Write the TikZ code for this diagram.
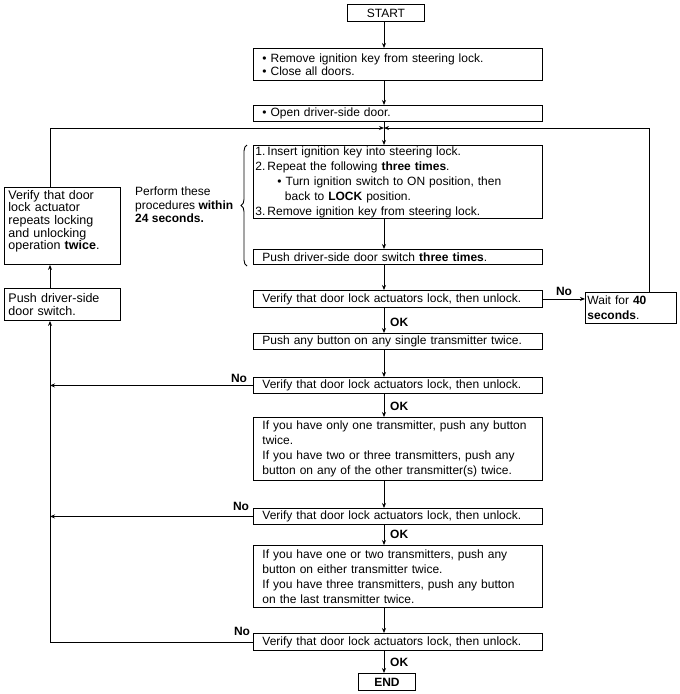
\documentclass[tikz,border=0pt]{standalone}
\usepackage{fontspec}
\setmainfont{Liberation Sans}
\usetikzlibrary{arrows.meta,decorations.pathreplacing,calc}
\begin{document}
\begin{tikzpicture}[x=1pt,y=-1pt,
  every node/.style={font=\fontsize{12}{15}\selectfont},
  box/.style={draw, line width=0.9pt, anchor=north west, align=left, inner ysep=0pt, inner xsep=9pt, minimum width=289pt, text width=271pt},
  lbox/.style={draw, line width=0.9pt, anchor=north west, align=left, inner ysep=0pt, inner xsep=4pt, minimum width=116pt, text width=108pt},
  arr/.style={line width=0.9pt, -{Stealth[length=5pt,width=4pt]}},
  conn/.style={line width=0.9pt},
  lab/.style={font=\bfseries\fontsize{12}{14}\selectfont, inner sep=0pt}
]
\useasboundingbox (0,0) rectangle (680,694);
\coordinate (L) at (50,0);
\coordinate (R) at (649,0);
\coordinate (J) at (384,128);

\node[draw, line width=0.9pt, anchor=north west, minimum width=77pt, minimum height=17pt, inner sep=0pt] (start) at (347,4) {START};
\node[box, minimum height=32pt, font=\fontsize{12}{13}\selectfont] (b2) at (253,48) {\textbullet\ Remove ignition key from steering lock.\\\textbullet\ Close all doors.};
\node[box, minimum height=16pt] (b3) at (253,105) {\textbullet\ Open driver-side door.};
\node[box, minimum height=73pt, inner xsep=2pt, text width=285pt] (b4) at (253,145) {\makebox[12pt][l]{1.}Insert ignition key into steering lock.\\
\makebox[12pt][l]{2.}Repeat the following \textbf{three times}.\\
\hspace*{22pt}\textbullet\ Turn ignition switch to ON position, then\\
\hspace*{29.5pt}back to \textbf{LOCK} position.\\
\makebox[12pt][l]{3.}Remove ignition key from steering lock.};
\node[box, minimum height=15pt] (b5) at (253,249) {Push driver-side door switch \textbf{three times}.};
\node[box, minimum height=17pt] (v1) at (253,290) {Verify that door lock actuators lock, then unlock.};
\node[draw, line width=0.9pt, anchor=north west, align=left, inner ysep=0pt, inner xsep=2pt, minimum width=91pt, text width=87pt, minimum height=31pt] (wait) at (585,292) {Wait for \textbf{40}\\\textbf{seconds}.};
\node[box, minimum height=16pt] (pushany) at (253,333) {Push any button on any single transmitter twice.};
\node[box, minimum height=16pt] (v2) at (253,377) {Verify that door lock actuators lock, then unlock.};
\node[box, minimum height=63pt] (only1) at (253,417) {If you have only one transmitter, push any button\\twice.\\If you have two or three transmitters, push any\\button on any of the other transmitter(s) twice.};
\node[box, minimum height=16pt] (v3) at (253,508) {Verify that door lock actuators lock, then unlock.};
\node[box, minimum height=62pt] (twoor) at (253,545) {If you have one or two transmitters, push any\\button on either transmitter twice.\\If you have three transmitters, push any button\\on the last transmitter twice.};
\node[box, minimum height=17pt] (v4) at (253,633) {Verify that door lock actuators lock, then unlock.};
\node[draw, line width=0.9pt, anchor=north west, minimum width=57pt, minimum height=17pt, inner sep=0pt, font=\bfseries\fontsize{12}{14}\selectfont] (end) at (358,673) {END};

\node[lbox, minimum height=77pt, font=\fontsize{12.5}{12.7}\selectfont] (A) at (4,187) {Verify that door\\lock actuator\\repeats locking\\and unlocking\\operation \textbf{twice}.\rule[-12pt]{0pt}{0pt}};
\node[lbox, minimum height=32pt, font=\fontsize{12.5}{12.5}\selectfont] (P) at (4,288) {Push driver-side\\door switch.};

\node[anchor=north west, align=left, inner sep=0pt, font=\fontsize{12}{13.5}\selectfont] (perf) at (135,187) {Perform these\\procedures \textbf{within}\\\textbf{24 seconds.}};
\draw[conn, decorate, decoration={brace, amplitude=6pt}] (247,266) -- (247,145);

\node[lab] (no1) at (564,291) {No};
\node[lab] (no2) at (239,378) {No};
\node[lab] (no3) at (241,506) {No};
\node[lab] (no4) at (242,631) {No};
\node[lab, anchor=west] (ok1) at (390,322) {OK};
\node[lab, anchor=west] (ok2) at (390,406) {OK};
\node[lab, anchor=west] (ok3) at (390,534) {OK};
\node[lab, anchor=west] (ok4) at (390,662) {OK};

\draw[arr] (start.south -| J) -- (b2.north -| J);
\draw[arr] (b2.south -| J) -- (b3.north -| J);
\draw[conn] (b3.south -| J) -- (J);
\draw[arr] (J) -- (b4.north -| J);
\draw[arr] (A.north -| L) |- (J);
\draw[arr] (wait.north -| R) |- (J);
\draw[arr] (b4.south -| J) -- (b5.north -| J);
\draw[arr] (b5.south -| J) -- (v1.north -| J);
\draw[arr] (v1.east) -- (v1.east -| wait.west);
\draw[arr] (v1.south -| J) -- (pushany.north -| J);
\draw[arr] (pushany.south -| J) -- (v2.north -| J);
\draw[arr] (v2.west) -- (v2.west -| L);
\draw[arr] (v2.south -| J) -- (only1.north -| J);
\draw[arr] (only1.south -| J) -- (v3.north -| J);
\draw[arr] (v3.west) -- (v3.west -| L);
\draw[arr] (v3.south -| J) -- (twoor.north -| J);
\draw[arr] (twoor.south -| J) -- (v4.north -| J);
\draw[arr] (v4.west) -| (P.south -| L);
\draw[arr] (P.north -| L) -- (A.south -| L);
\draw[arr] (v4.south -| J) -- (end.north -| J);
\end{tikzpicture}
\end{document}
